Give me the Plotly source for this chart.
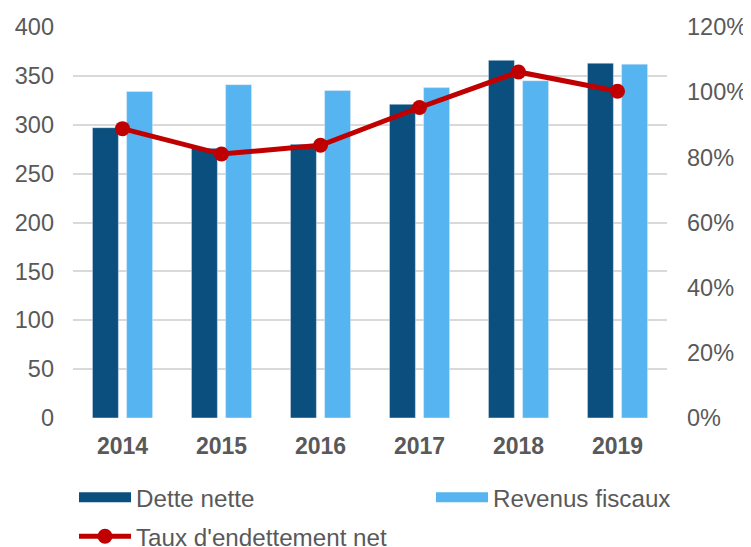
import plotly.graph_objects as go

years = ["2014", "2015", "2016", "2017", "2018", "2019"]
dette_nette = [297, 276, 280, 321, 366, 363]
revenus_fiscaux = [334, 341, 335, 338, 345, 362]
taux = [0.888, 0.810, 0.837, 0.953, 1.062, 1.003]
left_ticks = [0, 50, 100, 150, 200, 250, 300, 350, 400]
right_ticks = [0, 0.2, 0.4, 0.6, 0.8, 1.0, 1.2]

DARK = "#0b4f7e"
LIGHT = "#56b4f0"
RED = "#c00000"
GREY = "#595959"
FONT = "Liberation Sans, Arial, sans-serif"
# page is 751x547; the html body keeps its default 8px margin
W, H = 743, 539

fig = go.Figure()
fig.add_trace(go.Bar(x=years, y=dette_nette, name="Dette nette",
                     marker=dict(color=DARK), showlegend=False))
fig.add_trace(go.Bar(x=years, y=revenus_fiscaux, name="Revenus fiscaux",
                     marker=dict(color=LIGHT), showlegend=False))
fig.add_trace(go.Scatter(x=years, y=taux, name="Taux d'endettement net", yaxis="y2",
                         mode="lines+markers", line=dict(color=RED, width=5),
                         marker=dict(color=RED, size=15), showlegend=False))
# legend entries
fig.add_trace(go.Scatter(x=[None], y=[None], name="Dette nette", mode="lines",
                         line=dict(color=DARK, width=13), legend="legend"))
fig.add_trace(go.Scatter(x=[None], y=[None], name="Revenus fiscaux", mode="lines",
                         line=dict(color=LIGHT, width=13), legend="legend2"))
fig.add_trace(go.Scatter(x=[None], y=[None], name="Taux d'endettement net", mode="lines+markers",
                         line=dict(color=RED, width=5), marker=dict(color=RED, size=15),
                         yaxis="y2", legend="legend3"))

def leg(xpx, ypx):
    return dict(orientation="h", x=xpx / W, xanchor="left", y=1 - ypx / H, yanchor="middle",
                xref="container", yref="container", itemwidth=52,
                font=dict(family=FONT, size=24.2, color=GREY), bgcolor="rgba(0,0,0,0)")

fig.update_layout(
    width=W, height=H,
    margin=dict(l=65, r=84, t=19, b=128.5, autoexpand=False),
    paper_bgcolor="white", plot_bgcolor="white",
    font=dict(family=FONT, size=23, color=GREY),
    barmode="group", bargap=0.31, bargroupgap=0.24,
    xaxis=dict(showgrid=False, showline=False, ticks="", automargin=False,
               tickfont=dict(family=FONT, size=23, color=GREY, weight="bold"),
               ticklabelstandoff=12, fixedrange=True),
    yaxis=dict(range=[0, 400], tickvals=left_ticks, showgrid=True, automargin=False,
               gridcolor="#d9d9d9", gridwidth=1.5, zeroline=False, showline=False,
               ticks="", ticklabelstandoff=18,
               tickfont=dict(family=FONT, size=23.5, color=GREY)),
    yaxis2=dict(range=[0, 1.2], tickvals=right_ticks, tickformat=".0%", automargin=False,
                overlaying="y", side="right", showgrid=False, zeroline=False,
                ticks="", ticklabelstandoff=19,
                tickfont=dict(family=FONT, size=23.5, color=GREY)),
    legend=leg(66, 489.5),
    legend2=leg(423, 489.5),
    legend3=leg(66, 528.5),
)

fig.write_html("out.html")
